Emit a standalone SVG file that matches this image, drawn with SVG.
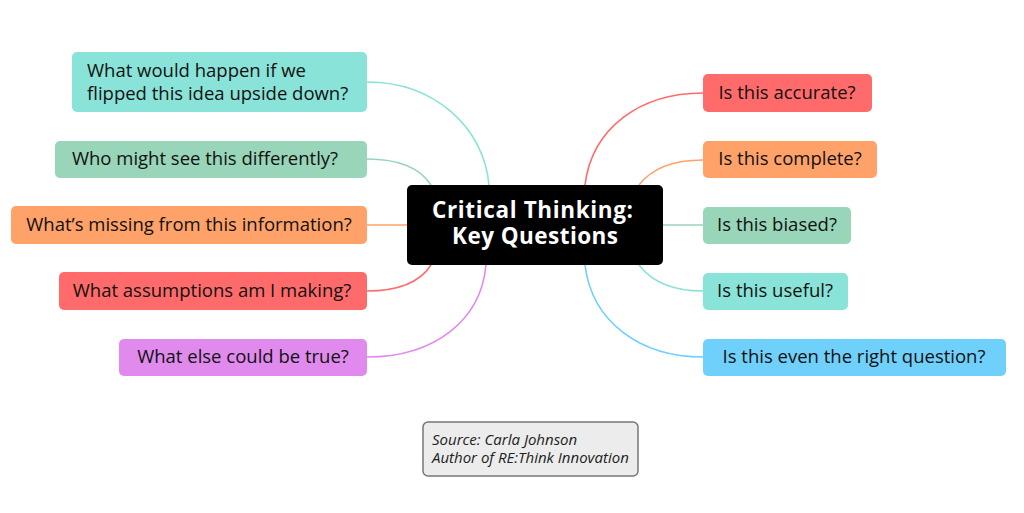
<svg xmlns="http://www.w3.org/2000/svg" width="1024" height="513" viewBox="0 0 1024 513">
<style>
.n{font-family:"Open Sans","Liberation Sans",sans-serif;font-size:18.5px;fill:#111}
.c{font-family:"Open Sans","Liberation Sans",sans-serif;font-size:22.5px;font-weight:bold;fill:#fff}
.s{font-family:"Open Sans","Liberation Sans",sans-serif;font-size:15px;font-style:italic;fill:#222}
.l{fill:none;stroke-width:1.6}
</style>
<rect width="1024" height="513" fill="#fff"/>
<g id="connectors">
<path class="l" stroke="#89e3d8" d="M489,185 C484,128 435,82 367,82"/>
<path class="l" stroke="#98d5b9" d="M431,185 C420,168 400,159 367,159"/>
<path class="l" stroke="#ffa26a" d="M407,225 L367,225"/>
<path class="l" stroke="#ff6b6b" d="M431,265 C420,282 400,291 367,291"/>
<path class="l" stroke="#e08aee" d="M486,265 C481,320 435,357 367,357"/>
<path class="l" stroke="#ff6b6b" d="M585,185 C592,128 640,93 703,93"/>
<path class="l" stroke="#ffa26a" d="M639,185 C652,168 672,160 703,160"/>
<path class="l" stroke="#98d5b9" d="M663,225 L703,225"/>
<path class="l" stroke="#89e3d8" d="M639,265 C652,282 672,291 703,291"/>
<path class="l" stroke="#6fd0fb" d="M585,265 C592,322 640,357 703,357"/>
</g>
<g id="center">
<rect x="407" y="185" width="256" height="80" rx="5" fill="#000"/>
<text class="c" x="432" y="218" textLength="201" lengthAdjust="spacing">Critical Thinking:</text>
<text class="c" x="452" y="244" textLength="166" lengthAdjust="spacing">Key Questions</text>
</g>
<g id="n-flip">
<rect x="72" y="52" width="295" height="60" rx="5" fill="#89e3d8"/>
<text class="n" x="87" y="77">What would happen if we</text>
<text class="n" x="87" y="100">flipped this idea upside down?</text>
</g>
<g id="n-who">
<rect x="55" y="141" width="312" height="37" rx="5" fill="#98d5b9"/>
<text class="n" x="205" y="165" text-anchor="middle">Who might see this differently?</text>
</g>
<g id="n-missing">
<rect x="11" y="206" width="356" height="38" rx="5" fill="#ffa26a"/>
<text class="n" x="189" y="231" text-anchor="middle">What’s missing from this information?</text>
</g>
<g id="n-assume">
<rect x="59" y="272" width="308" height="38" rx="5" fill="#ff6b6b"/>
<text class="n" x="212" y="297" text-anchor="middle">What assumptions am I making?</text>
</g>
<g id="n-else">
<rect x="119" y="339" width="248" height="37" rx="5" fill="#e08aee"/>
<text class="n" x="243" y="363" text-anchor="middle">What else could be true?</text>
</g>
<g id="n-accurate">
<rect x="703" y="74" width="169" height="38" rx="5" fill="#ff6b6b"/>
<text class="n" x="787" y="99" text-anchor="middle">Is this accurate?</text>
</g>
<g id="n-complete">
<rect x="703" y="141" width="174" height="37" rx="5" fill="#ffa26a"/>
<text class="n" x="790" y="165" text-anchor="middle">Is this complete?</text>
</g>
<g id="n-biased">
<rect x="703" y="207" width="148" height="37" rx="5" fill="#98d5b9"/>
<text class="n" x="777" y="231" text-anchor="middle">Is this biased?</text>
</g>
<g id="n-useful">
<rect x="703" y="273" width="145" height="37" rx="5" fill="#89e3d8"/>
<text class="n" x="775" y="297" text-anchor="middle">Is this useful?</text>
</g>
<g id="n-right">
<rect x="703" y="339" width="303" height="37" rx="5" fill="#6fd0fb"/>
<text class="n" x="854" y="363" text-anchor="middle">Is this even the right question?</text>
</g>
<g id="source">
<rect x="423" y="422" width="215" height="54" rx="5" fill="#ececec" stroke="#777" stroke-width="1.5"/>
<text class="s" x="432" y="445">Source: Carla Johnson</text>
<text class="s" x="432" y="463">Author of RE:Think Innovation</text>
</g>
</svg>
